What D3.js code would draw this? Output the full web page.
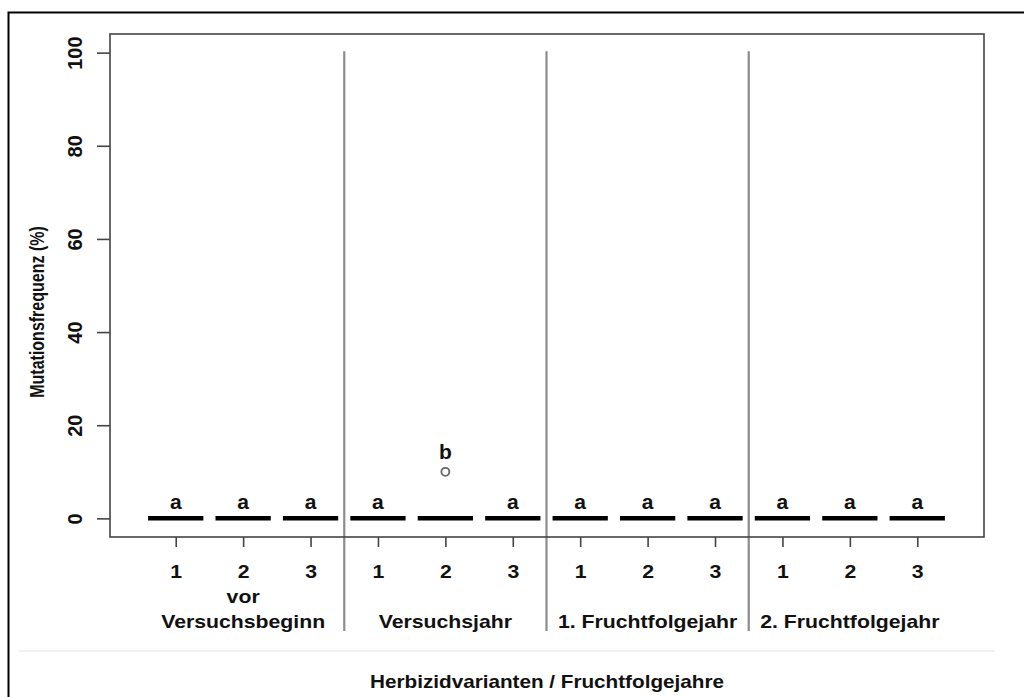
<!DOCTYPE html>
<html>
<head>
<meta charset="utf-8">
<script src="https://cdn.jsdelivr.net/npm/d3@7"></script>
<style>
  body { margin: 0; background: #fff; }
  svg { display: block; font-family: "Liberation Sans", Arial, sans-serif; font-weight: bold; }
</style>
</head>
<body>
<svg id="chart"></svg>
<script>
// Data
const groups = ["vor\nVersuchsbeginn", "Versuchsjahr", "1. Fruchtfolgejahr", "2. Fruchtfolgejahr"];
const variants = ["1", "2", "3"];
const medians = [0, 0, 0, 0, 0, 0, 0, 0, 0, 0, 0, 0];
const outliers = [{ pos: 5, value: 10 }];
const letters = ["a", "a", "a", "a", "b", "a", "a", "a", "a", "a", "a", "a"];
const yTicks = [0, 20, 40, 60, 80, 100];

const width = 1024, height = 697;
const plot = { left: 110, right: 984, top: 34, bottom: 537 };
const stretch = 1.18; // the source image is a bit wider than tall

const svg = d3.select("#chart").attr("width", width).attr("height", height);

// outer frame
svg.append("rect")
  .attr("x", 8.5).attr("y", 12.5)
  .attr("width", width).attr("height", height)
  .attr("fill", "none").attr("stroke", "#000").attr("stroke-width", 2);

const x = d3.scaleLinear().domain([0.025, 12.99]).range([plot.left, plot.right]);
const y = d3.scaleLinear().domain([-4, 104]).range([plot.bottom, plot.top]);

// light separator line above axis title
svg.append("line")
  .attr("x1", 19).attr("x2", 995)
  .attr("y1", 651).attr("y2", 651)
  .attr("stroke", "#ececec").attr("stroke-width", 1.5);

// group separators
const seps = [3.5, 6.5, 9.5];
svg.selectAll(".sep")
  .data(seps)
  .enter()
  .append("line")
  .attr("x1", (d) => x(d)).attr("x2", (d) => x(d))
  .attr("y1", y(100.3)).attr("y2", 631)
  .attr("stroke", "#8c8c8c").attr("stroke-width", 2.2);

// plot box
svg.append("rect")
  .attr("x", plot.left).attr("y", plot.top)
  .attr("width", plot.right - plot.left).attr("height", plot.bottom - plot.top)
  .attr("fill", "none").attr("stroke", "#444").attr("stroke-width", 1.6);

// y axis
const yAxis = svg.append("g")
  .attr("transform", `translate(${plot.left},0)`)
  .call(d3.axisLeft(y).tickValues(yTicks).tickSize(13).tickPadding(0).tickFormat(d3.format("d")));
yAxis.select(".domain").remove();
yAxis.selectAll(".tick line").attr("stroke", "#444").attr("stroke-width", 1.6);
yAxis.selectAll(".tick text")
  .attr("transform", "rotate(-90)")
  .attr("x", 0).attr("y", -35)
  .attr("dy", "0.35em")
  .attr("text-anchor", "middle")
  .attr("fill", "#111")
  .style("font-size", "20px")
  .style("font-family", "'Liberation Sans', Arial, sans-serif")
  .style("font-weight", "bold");

// x axis
const positions = d3.range(1, groups.length * variants.length + 1);
const xAxis = svg.append("g")
  .attr("transform", `translate(0,${plot.bottom})`)
  .call(d3.axisBottom(x).tickValues(positions).tickSize(10)
    .tickFormat((d) => variants[(d - 1) % variants.length]));
xAxis.select(".domain").remove();
xAxis.selectAll(".tick line").attr("stroke", "#444").attr("stroke-width", 1.6);
xAxis.selectAll(".tick text")
  .attr("y", 41).attr("dy", null)
  .attr("transform", `scale(${stretch},1)`)
  .attr("fill", "#111")
  .style("font-size", "18px")
  .style("font-family", "'Liberation Sans', Arial, sans-serif")
  .style("font-weight", "bold");

// group labels
groups.forEach((g, i) => {
  const lines = g.split("\n");
  const cx = x(i * variants.length + 2);
  lines.forEach((ln, j) => {
    const by = 627.5 - (lines.length - 1 - j) * 24.5;
    svg.append("text")
      .attr("transform", `translate(${cx},${by}) scale(${stretch},1)`)
      .attr("text-anchor", "middle")
      .attr("fill", "#111")
      .style("font-size", "18px")
      .text(ln);
  });
});

// median bars
const boxW = 0.82;
svg.selectAll(".med")
  .data(medians)
  .enter()
  .append("line")
  .attr("x1", (d, i) => x(i + 1 - boxW / 2))
  .attr("x2", (d, i) => x(i + 1 + boxW / 2))
  .attr("y1", (d) => y(d)).attr("y2", (d) => y(d))
  .attr("stroke", "#000").attr("stroke-width", 4.5);

// outliers
svg.selectAll(".out")
  .data(outliers)
  .enter()
  .append("circle")
  .attr("cx", (d) => x(d.pos))
  .attr("cy", (d) => y(d.value))
  .attr("r", 4)
  .attr("fill", "#fff")
  .attr("stroke", "#666").attr("stroke-width", 1.8);

// significance letters
const topVal = positions.map((p, i) => {
  const o = outliers.filter((d) => d.pos === p).map((d) => d.value);
  return d3.max([medians[i], ...o]);
});
svg.selectAll(".letter")
  .data(letters)
  .enter()
  .append("text")
  .attr("x", (d, i) => x(i + 1))
  .attr("y", (d, i) => y(topVal[i]) - (topVal[i] > medians[i] ? 13 : 9))
  .attr("text-anchor", "middle")
  .attr("fill", "#111")
  .style("font-size", "21px")
  .text((d) => d);

// axis titles
svg.append("text")
  .attr("transform", "translate(37,312) rotate(-90) scale(1,1.25)")
  .attr("text-anchor", "middle")
  .attr("dy", "0.35em")
  .attr("fill", "#111")
  .style("font-size", "16px")
  .text("Mutationsfrequenz (%)");

svg.append("text")
  .attr("transform", `translate(${(plot.left + plot.right) / 2},688) scale(1.15,1)`)
  .attr("text-anchor", "middle")
  .attr("fill", "#111")
  .style("font-size", "18px")
  .text("Herbizidvarianten / Fruchtfolgejahre");
</script>
</body>
</html>
